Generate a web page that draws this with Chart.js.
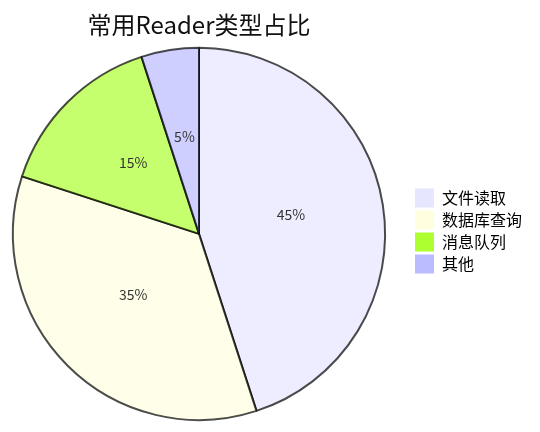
<!DOCTYPE html>
<html>
<head>
<meta charset="utf-8">
<script src="https://cdn.jsdelivr.net/npm/chart.js@4/dist/chart.umd.min.js"></script>
<style>
  html, body { margin: 0; padding: 0; background: #fff; }
  #wrap { width: 540px; height: 432px; }
</style>
</head>
<body>
<div id="wrap"><canvas id="pie"></canvas></div>
<script>
  var labels = ['文件读取', '数据库查询', '消息队列', '其他'];
  var shares = [45, 35, 15, 5];
  var swatchColors = ['#e6e6ff', '#ffffe0', '#adff2f', '#bbbbff'];
  var sliceColors = ['rgba(230, 230, 255, 0.7)', 'rgba(255, 255, 224, 0.7)', 'rgba(173, 255, 47, 0.7)', 'rgba(187, 187, 255, 0.7)'];
  var fontFamily = '"Noto Sans CJK SC", "Noto Sans", sans-serif';

  // percent text in the middle of each slice
  var sliceLabels = {
    id: 'sliceLabels',
    afterDatasetsDraw: function (chart) {
      var ctx = chart.ctx;
      var meta = chart.getDatasetMeta(0);
      ctx.save();
      ctx.font = '14px ' + fontFamily;
      ctx.fillStyle = '#333';
      ctx.textAlign = 'center';
      ctx.textBaseline = 'middle';
      meta.data.forEach(function (arc, i) {
        var p = arc.tooltipPosition();
        ctx.fillText(shares[i] + '%', p.x, p.y - 5);
      });
      ctx.restore();
    }
  };

  // legend sits a little apart from the pie, nudge it right
  var legendNudge = {
    id: 'legendNudge',
    afterLayout: function (chart) {
      var lg = chart.legend;
      if (!lg) return;
      lg.left += 14;
      lg.right += 14;
      lg.top -= 3;
      lg.bottom -= 3;
    }
  };

  new Chart(document.getElementById('pie').getContext('2d'), {
    type: 'pie',
    data: {
      labels: labels,
      datasets: [{
        data: shares,
        backgroundColor: sliceColors,
        borderColor: 'rgba(0, 0, 0, 0.7)',
        borderWidth: 2
      }]
    },
    options: {
      responsive: true,
      maintainAspectRatio: false,
      animation: false,
      layout: { padding: { left: 0, right: 22, top: 0, bottom: 11 } },
      plugins: {
        title: {
          display: true,
          text: '常用Reader类型占比',
          fullSize: false,
          color: '#111',
          font: { family: fontFamily, size: 24, weight: 'normal' },
          padding: { top: 10, bottom: 8 }
        },
        legend: {
          position: 'right',
          fullSize: false,
          labels: {
            boxWidth: 19,
            boxHeight: 19,
            padding: 3,
            color: '#111',
            font: { family: fontFamily, size: 16 },
            generateLabels: function (chart) {
              return labels.map(function (text, i) {
                return {
                  text: text,
                  fillStyle: swatchColors[i],
                  strokeStyle: swatchColors[i],
                  lineWidth: 0,
                  hidden: false,
                  index: i
                };
              });
            }
          }
        },
        tooltip: { enabled: false }
      }
    },
    plugins: [sliceLabels, legendNudge]
  });
</script>
</body>
</html>
